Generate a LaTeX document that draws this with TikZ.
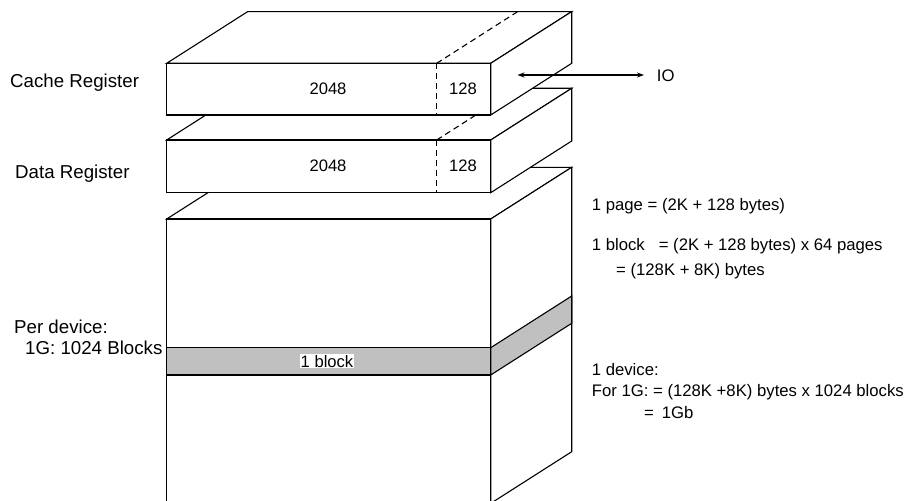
\documentclass[tikz,border=0pt]{standalone}
\usepackage{fontspec}
\setmainfont{Liberation Sans}
\usetikzlibrary{arrows.meta}
\begin{document}
\begin{tikzpicture}[x=1pt,y=-1pt,
  face/.style={draw=black,fill=white,line width=1.1pt,line join=miter},
  dashline/.style={dashed,dash pattern=on 6pt off 4pt,line width=1.1pt},
  lbl/.style={font=\fontsize{18.7}{22}\selectfont,anchor=base west,inner sep=0pt},
  txt/.style={font=\fontsize{16.7}{20}\selectfont,anchor=base west,inner sep=0pt},
  num/.style={font=\fontsize{16.6}{20}\selectfont,anchor=base,inner sep=0pt}]
\definecolor{bandgray}{RGB}{192,192,192}
\useasboundingbox (0,0) rectangle (909,500);
\clip (0,0) rectangle (909,500);
% coordinates
\def\L{166.7}\def\R{490.7}\def\DX{81}\def\DY{51.7}
% ---------- big box (device) ----------
\draw[face] (\L,219) -- (\L+\DX,219-\DY) -- (\R+\DX,219-\DY) -- (\R,219) -- cycle;
\draw[face] (\R,219) -- (\R+\DX,219-\DY) -- (\R+\DX,451.7) -- (\R,503.4) -- cycle;
\draw[face] (\L,219) rectangle (\R,520);
\draw[line width=1.1pt,fill=bandgray] (\L,347.7) rectangle (\R,375);
\draw[line width=1.1pt,fill=bandgray] (\R,347.7) -- (\R+\DX,347.7-\DY) -- (\R+\DX,375-\DY) -- (\R,375) -- cycle;
\node[num,fill=white,inner sep=1pt] (blk) at (327,367.3) {1 block};
% ---------- data register ----------
\draw[face] (\L,140) -- (\L+\DX,140-\DY) -- (\R+\DX,140-\DY) -- (\R,140) -- cycle;
\draw[face] (\R,140) -- (\R+\DX,140-\DY) -- (\R+\DX,192.7-\DY) -- (\R,192.7) -- cycle;
\draw[face] (\L,140) rectangle (\R,192.7);
\draw[dashline] (436.7,140) -- (436.7,192.7);
\draw[dashline] (436.7,140) -- (436.7+\DX,140-\DY);
\node[num] (d2048) at (328,171.7) {2048};
\node[num] (d128) at (463,171.7) {128};
% ---------- cache register ----------
\draw[face] (\L,63.3) -- (\L+\DX,63.3-\DY) -- (\R+\DX,63.3-\DY) -- (\R,63.3) -- cycle;
\draw[face] (\R,63.3) -- (\R+\DX,63.3-\DY) -- (\R+\DX,115-\DY) -- (\R,115) -- cycle;
\draw[face] (\L,63.3) rectangle (\R,115);
\draw[dashline] (436.7,63.3) -- (436.7,115);
\draw[dashline] (436.7,63.3) -- (436.7+\DX,63.3-\DY);
\node[num] (c2048) at (328,95) {2048};
\node[num] (c128) at (463,95) {128};
% ---------- IO arrow ----------
\node[txt] (io) at (656.7,81.3) {IO};
\coordinate (ioL) at (517.5,75);
\coordinate (ioR) at (644,75);
\draw[line width=1.1pt,{Stealth[length=7pt,width=5pt]}-{Stealth[length=7pt,width=5pt]}] (ioL) -- (ioR);
% ---------- left labels ----------
\node[lbl] (cr) at (10,88) {Cache Register};
\node[lbl] (dr) at (15,178) {Data Register};
\node[lbl] (pd) at (14,333.3) {Per device:};
\node[lbl] (pd2) at (25,354.3) {1G: 1024 Blocks};
% ---------- right text ----------
\node[txt] (t1) at (591.7,210) {1 page = (2K + 128 bytes)};
\node[txt] (t2) at (591.7,250.7) {1 block\hspace{14pt}= (2K + 128 bytes) x 64 pages};
\node[txt] (t3) at (616,275) {= (128K + 8K) bytes};
\node[txt] (t4) at (591.7,375) {1 device:};
\node[txt] (t5) at (591.7,396) {For 1G: = (128K +8K) bytes x 1024 blocks};
\node[txt] (t6) at (644,418.3) {=\hspace{8pt}1Gb};
\end{tikzpicture}
\end{document}
